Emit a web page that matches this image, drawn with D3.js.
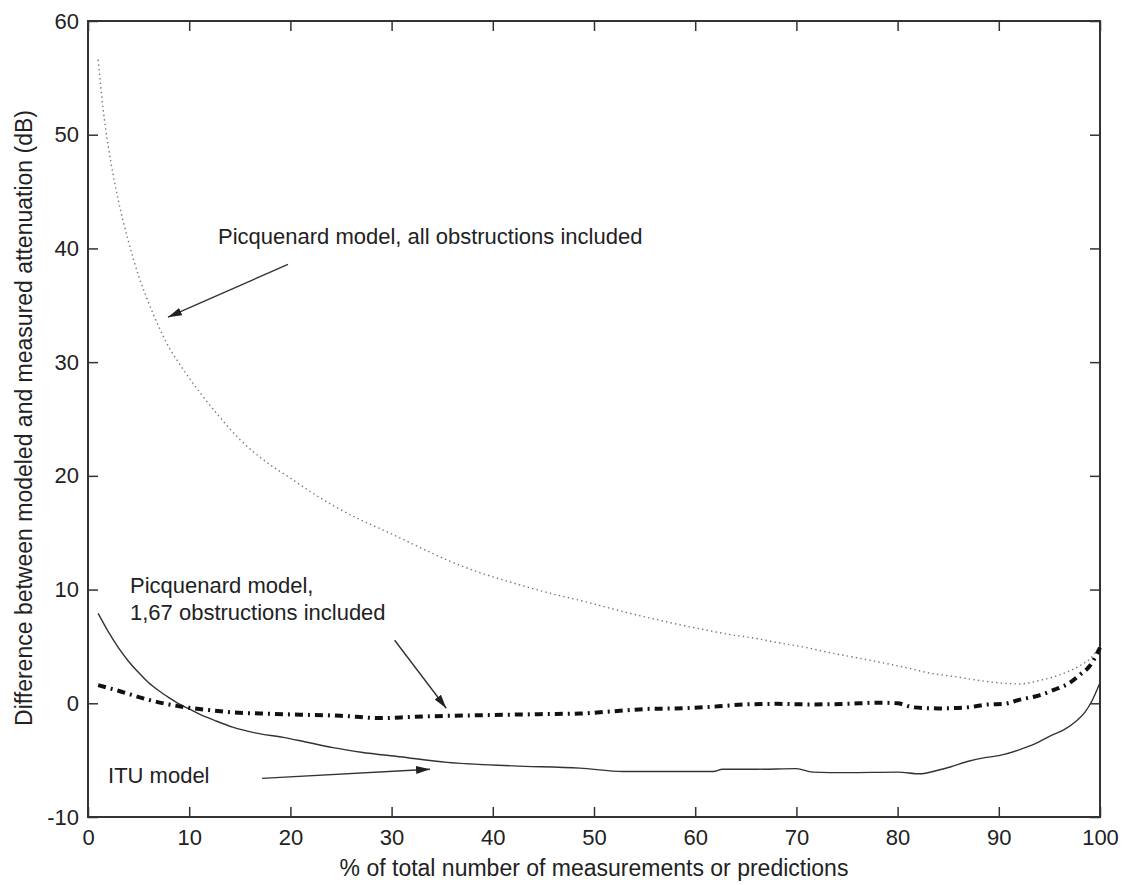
<!DOCTYPE html>
<html>
<head>
<meta charset="utf-8">
<script src="https://cdn.jsdelivr.net/npm/d3@7/dist/d3.min.js"></script>
<style>
  html, body { margin: 0; padding: 0; background: #fff; }
  svg { display: block; }
  text { font-family: "Liberation Sans", Arial, Helvetica, sans-serif; fill: #222; }
</style>
</head>
<body>
<svg id="chart" width="1124" height="885"></svg>
<script>
// Picquenard model, all obstructions included
const allObsX = [1, 1.5, 2, 2.5, 3, 3.5, 4, 5, 6, 7, 8, 9, 10, 11, 12.8, 15, 17.8, 20, 22, 24.4, 27, 29, 32, 34, 36, 38.7, 41, 43.7, 46, 48.6, 51, 53.6, 56, 58.5, 61, 63.4, 66, 68.4, 71, 73.3, 76, 78.3, 81, 83.2, 86, 88.1, 90, 92, 94, 96, 98, 99, 100];
const allObsY = [56.6, 52.2, 49.0, 46.4, 44.2, 42.3, 40.6, 37.6, 35.2, 33.1, 31.3, 29.9, 28.6, 27.4, 25.4, 23.2, 21.1, 19.8, 18.6, 17.3, 16.1, 15.3, 14.05, 13.2, 12.4, 11.5, 10.85, 10.15, 9.6, 9.05, 8.5, 7.9, 7.4, 6.9, 6.45, 6.05, 5.7, 5.3, 4.9, 4.45, 4.0, 3.6, 3.1, 2.65, 2.3, 2.0, 1.8, 1.7, 2.0, 2.5, 3.3, 3.9, 5.0];

// Picquenard model, 1,67 obstructions included
const obs167X = [1, 3, 6, 8, 10, 12, 14.3, 17, 21, 25, 28.9, 32, 35.5, 39, 42, 45, 48.6, 52, 55.2, 58, 61.8, 65, 68, 71.6, 75, 78, 80, 81.5, 84, 87, 89, 90.5, 92, 94, 95.5, 97, 98, 99, 100];
const obs167Y = [1.6, 1.1, 0.3, -0.1, -0.4, -0.6, -0.8, -0.9, -1.0, -1.1, -1.3, -1.2, -1.1, -1.05, -1.0, -0.95, -0.9, -0.7, -0.5, -0.45, -0.3, -0.1, -0.05, -0.1, -0.05, 0.05, 0.0, -0.35, -0.45, -0.35, -0.1, -0.05, 0.3, 0.7, 1.2, 1.8, 2.5, 3.3, 4.9];

// ITU model
const ituX = [1, 2, 3, 4, 5, 6, 7, 8, 9, 10, 11, 12.5, 14.3, 16.5, 19.3, 21.5, 24.2, 27, 30.8, 35.5, 42, 48.6, 52.9, 55, 61.8, 62.7, 66, 70, 71.6, 75, 80, 82.2, 83.5, 85.2, 87, 88.5, 90, 92, 93.5, 95, 96.5, 97.6, 98.5, 99.2, 100];
const ituY = [7.9, 6.3, 4.9, 3.7, 2.7, 1.8, 1.1, 0.5, -0.05, -0.5, -0.95, -1.5, -2.1, -2.6, -3.0, -3.4, -3.9, -4.3, -4.7, -5.2, -5.5, -5.7, -6.0, -6.0, -6.0, -5.8, -5.8, -5.75, -6.05, -6.1, -6.05, -6.2, -6.0, -5.6, -5.1, -4.8, -4.6, -4.1, -3.6, -2.9, -2.3, -1.6, -0.8, 0.2, 1.8];

// Axis ticks
const xTicks = [0, 10, 20, 30, 40, 50, 60, 70, 80, 90, 100];
const yTicks = [-10, 0, 10, 20, 30, 40, 50, 60];

// Annotation texts (anchored in data units) and arrows [tail, tip]
const labelAll = { x: 12.85, y: 40.4, lines: ["Picquenard model, all obstructions included"] };
const label167 = { x: 4.15, y: 9.67, lines: ["Picquenard model,", "1,67 obstructions included"] };
const labelItu = { x: 1.98, y: -7.04, lines: ["ITU model"] };
const arrows = [
  [[19.76, 38.6], [7.9, 33.95]],
  [[30.3, 5.54], [35.4, -0.44]],
  [[17.2, -6.6], [33.8, -5.8]]
];

const svg = d3.select("#chart");
const plotLeft = 88, plotRight = 1100, plotTop = 21, plotBottom = 817;

const x = d3.scaleLinear().domain([0, 100]).range([plotLeft, plotRight]);
const y = d3.scaleLinear().domain([-10, 60]).range([plotBottom, plotTop]);

const axisColor = "#333";

// Frame
svg.append("rect")
  .attr("x", plotLeft).attr("y", plotTop)
  .attr("width", plotRight - plotLeft).attr("height", plotBottom - plotTop)
  .attr("fill", "none").attr("stroke", axisColor).attr("stroke-width", 2);

function styleAxis(g, showText) {
  g.select(".domain").remove();
  g.selectAll(".tick line").attr("stroke", axisColor).attr("stroke-width", 1.5);
  g.selectAll(".tick text")
    .attr("fill", "#222")
    .style("font-size", "22px")
    .style("font-family", '"Liberation Sans", Arial, sans-serif');
  if (!showText) g.selectAll(".tick text").remove();
}

const plainFormat = d => String(d);

// Bottom and left axes with inward ticks
svg.append("g").attr("transform", `translate(0,${plotBottom})`)
  .call(d3.axisBottom(x).tickValues(xTicks).tickSize(-10).tickPadding(12).tickFormat(plainFormat))
  .call(g => styleAxis(g, true));
svg.append("g").attr("transform", `translate(${plotLeft},0)`)
  .call(d3.axisLeft(y).tickValues(yTicks).tickSize(-10).tickPadding(9).tickFormat(plainFormat))
  .call(g => styleAxis(g, true));
// Top and right mirror ticks
svg.append("g").attr("transform", `translate(0,${plotTop})`)
  .call(d3.axisTop(x).tickValues(xTicks).tickSize(-10))
  .call(g => styleAxis(g, false));
svg.append("g").attr("transform", `translate(${plotRight},0)`)
  .call(d3.axisRight(y).tickValues(yTicks).tickSize(-10))
  .call(g => styleAxis(g, false));

// Axis titles
svg.append("text")
  .attr("x", 594).attr("y", 876)
  .attr("text-anchor", "middle")
  .style("font-size", "23px")
  .text("% of total number of measurements or predictions");
svg.append("text")
  .attr("transform", `translate(32,418) rotate(-90)`)
  .attr("text-anchor", "middle")
  .style("font-size", "23px")
  .text("Difference between modeled and measured attenuation (dB)");

// Curves
const line = d3.line().x(d => x(d[0])).y(d => y(d[1])).curve(d3.curveMonotoneX);
const zip = (xs, ys) => xs.map((v, i) => [v, ys[i]]);

const plot = svg.append("g");
plot.append("path")
  .datum(zip(allObsX, allObsY))
  .attr("d", line)
  .attr("fill", "none").attr("stroke", "#777").attr("stroke-width", 1.4)
  .attr("stroke-dasharray", "1.4,3.2");

plot.append("path")
  .datum(zip(ituX, ituY))
  .attr("d", line)
  .attr("fill", "none").attr("stroke", "#333").attr("stroke-width", 1.4);

plot.append("path")
  .datum(zip(obs167X, obs167Y))
  .attr("d", line)
  .attr("fill", "none").attr("stroke", "#111").attr("stroke-width", 4)
  .attr("stroke-dasharray", "8,5,2,5");

// Annotations
function addLabel(l) {
  const t = svg.append("text")
    .attr("x", x(l.x)).attr("y", y(l.y))
    .style("font-size", "22px");
  l.lines.forEach((s, i) => {
    t.append("tspan").attr("x", x(l.x)).attr("dy", i === 0 ? 0 : 27).text(s);
  });
}
[labelAll, label167, labelItu].forEach(addLabel);

const defs = svg.append("defs");
defs.append("marker")
  .attr("id", "head")
  .attr("viewBox", "0 0 14 8")
  .attr("refX", 14).attr("refY", 4)
  .attr("markerWidth", 14).attr("markerHeight", 8)
  .attr("markerUnits", "userSpaceOnUse")
  .attr("orient", "auto")
  .append("path").attr("d", "M0,0 L14,4 L0,8 Z").attr("fill", "#222");

arrows.forEach(a => {
  svg.append("line")
    .attr("x1", x(a[0][0])).attr("y1", y(a[0][1]))
    .attr("x2", x(a[1][0])).attr("y2", y(a[1][1]))
    .attr("stroke", "#333").attr("stroke-width", 1.4)
    .attr("marker-end", "url(#head)");
});
</script>
</body>
</html>
